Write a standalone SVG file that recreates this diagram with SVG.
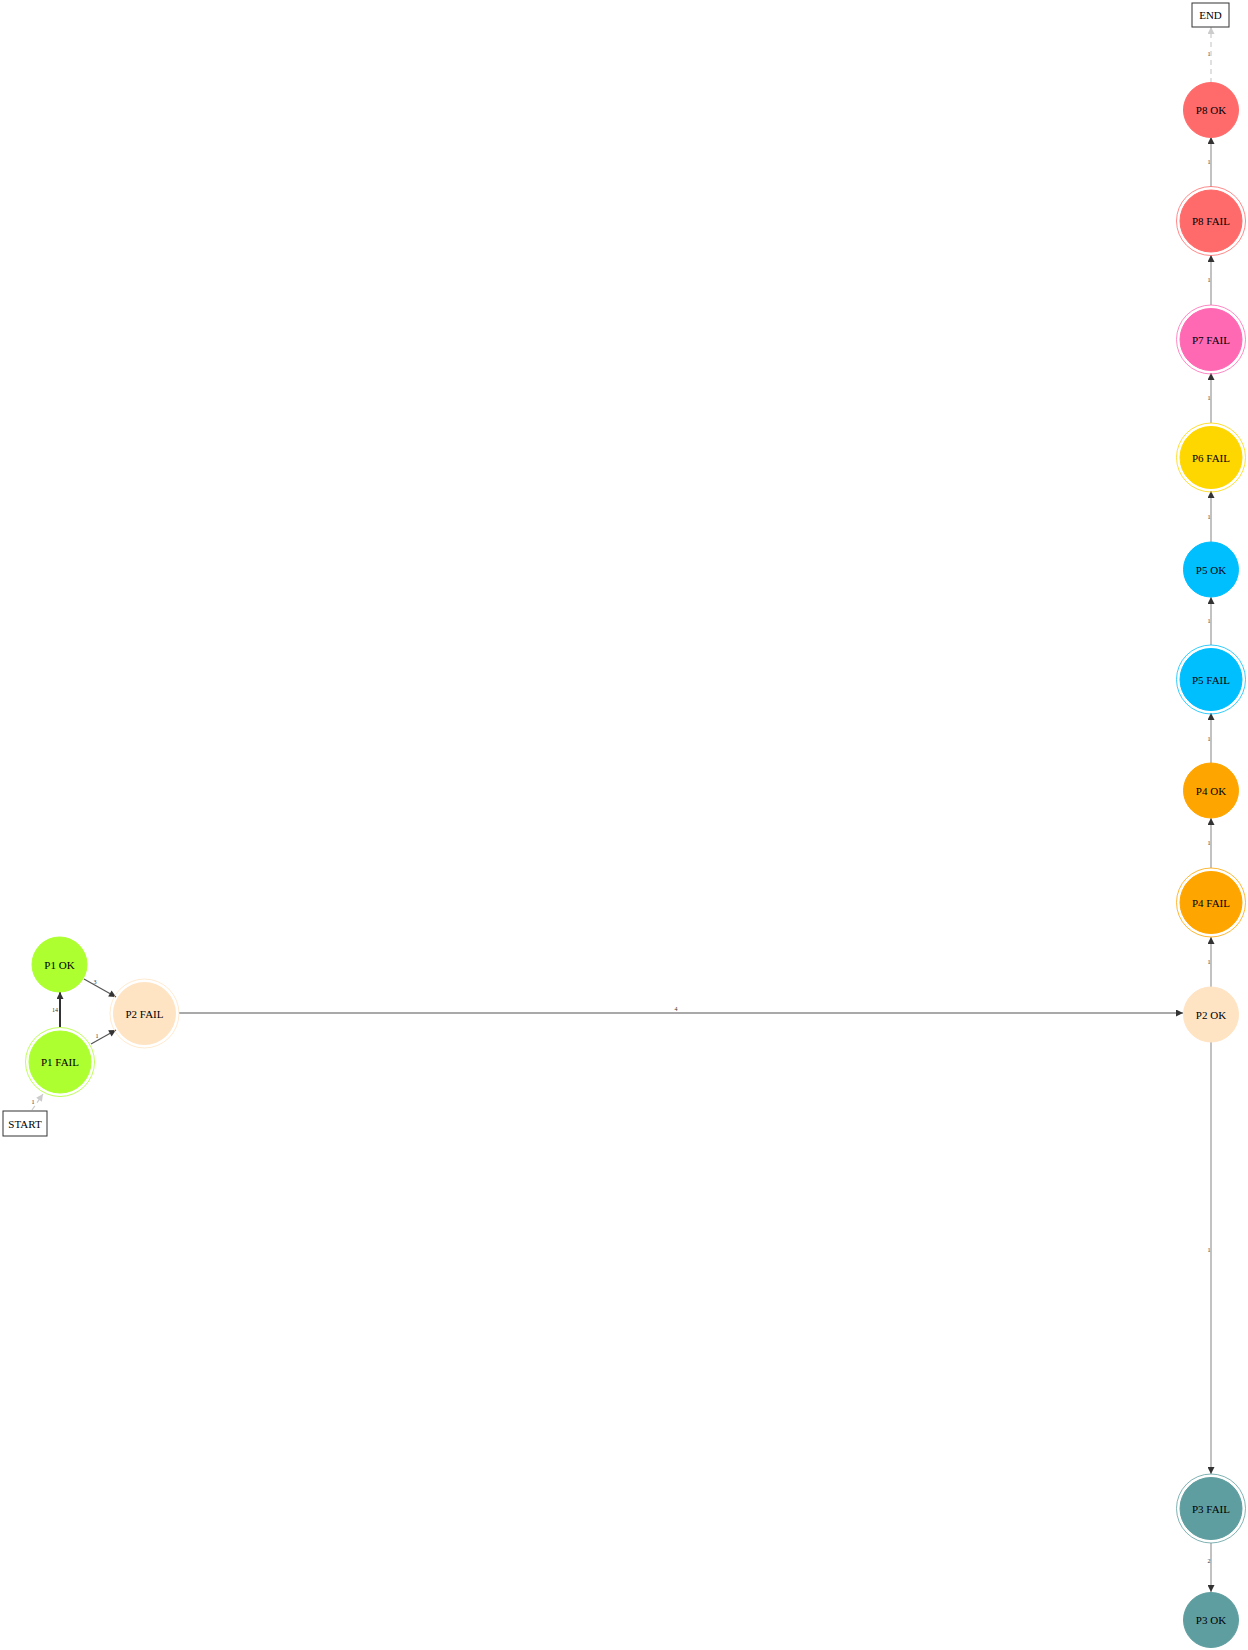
<svg xmlns="http://www.w3.org/2000/svg" width="1248" height="1650" viewBox="0 0 1248 1650">
<style>
.lbl{font-family:"Liberation Serif","Times New Roman",serif;font-size:11px;fill:#000;text-anchor:middle;dominant-baseline:central}
.el{font-family:"Liberation Serif","Times New Roman",serif;font-size:6px;fill:#333;text-anchor:middle;dominant-baseline:central}
.e{fill:none;stroke:#999;stroke-width:1.2}
.dk{stroke:#555}
.th{stroke:#333;stroke-width:2}
.ds{stroke:#ccc;stroke-dasharray:5,4}
.box{fill:#fff;stroke:#333;stroke-width:1}
.ring{fill:none;stroke-width:0.8}
</style>
<defs>
<marker id="a" viewBox="0 0 10 10" refX="10" refY="5" markerWidth="10" markerHeight="7" markerUnits="userSpaceOnUse" orient="auto"><path d="M0,0L10,5L0,10z" fill="#333"/></marker>
<marker id="al" viewBox="0 0 10 10" refX="10" refY="5" markerWidth="10" markerHeight="7" markerUnits="userSpaceOnUse" orient="auto"><path d="M0,0L10,5L0,10z" fill="#ccc"/></marker>
</defs>
<rect width="1248" height="1650" fill="#fff"/>
<g id="edges">
<line class="e ds" x1="32" y1="1110" x2="43" y2="1094" marker-end="url(#al)"/><text class="el" x="33" y="1102">1</text>
<line class="e th" x1="60" y1="1027" x2="60" y2="992" marker-end="url(#a)"/><text class="el" x="55" y="1010">14</text>
<line class="e dk" x1="84" y1="979" x2="116" y2="997" marker-end="url(#a)"/><text class="el" x="95" y="982">3</text>
<line class="e dk" x1="91" y1="1044" x2="116" y2="1030" marker-end="url(#a)"/><text class="el" x="97" y="1036">1</text>
<line class="e dk" x1="179" y1="1013" x2="1183" y2="1013" marker-end="url(#a)"/><text class="el" x="676" y="1009">4</text>
<line class="e" x1="1211" y1="987" x2="1211" y2="937" marker-end="url(#a)"/><text class="el" x="1209" y="962">1</text>
<line class="e" x1="1211" y1="868" x2="1211" y2="818" marker-end="url(#a)"/><text class="el" x="1209" y="843">1</text>
<line class="e" x1="1211" y1="763" x2="1211" y2="713" marker-end="url(#a)"/><text class="el" x="1209" y="739">1</text>
<line class="e" x1="1211" y1="645" x2="1211" y2="597" marker-end="url(#a)"/><text class="el" x="1209" y="621">1</text>
<line class="e" x1="1211" y1="542" x2="1211" y2="491" marker-end="url(#a)"/><text class="el" x="1209" y="517">1</text>
<line class="e" x1="1211" y1="423" x2="1211" y2="373" marker-end="url(#a)"/><text class="el" x="1209" y="398">1</text>
<line class="e" x1="1211" y1="305" x2="1211" y2="255" marker-end="url(#a)"/><text class="el" x="1209" y="280">1</text>
<line class="e" x1="1211" y1="187" x2="1211" y2="137" marker-end="url(#a)"/><text class="el" x="1209" y="162">1</text>
<line class="e ds" x1="1211" y1="83" x2="1211" y2="27" marker-end="url(#al)"/><text class="el" x="1209" y="54">1</text>
<line class="e" x1="1211" y1="1042" x2="1211" y2="1474" marker-end="url(#a)"/><text class="el" x="1209" y="1250">1</text>
<line class="e" x1="1211" y1="1543" x2="1211" y2="1592" marker-end="url(#a)"/><text class="el" x="1209" y="1561">2</text>
</g>
<g id="start"><rect class="box" x="3" y="1111" width="44" height="25"/><text class="lbl" x="25" y="1124">START</text></g>
<g id="end"><rect class="box" x="1192" y="3" width="37" height="24"/><text class="lbl" x="1210.5" y="15">END</text></g>
<g id="p1fail"><circle class="ring" cx="60" cy="1062" r="34.5" stroke="#ADFF2F"/><circle cx="60" cy="1062" r="31" fill="#ADFF2F" stroke="#ADFF2F"/><text class="lbl" x="60" y="1062">P1 FAIL</text></g>
<g id="p1ok"><circle cx="59.5" cy="964.5" r="27.5" fill="#ADFF2F" stroke="#ADFF2F"/><text class="lbl" x="59.5" y="964.5">P1 OK</text></g>
<g id="p2fail"><circle class="ring" cx="144.5" cy="1013.5" r="34.5" stroke="#FFE4C4"/><circle cx="144.5" cy="1013.5" r="31" fill="#FFE4C4" stroke="#FFE4C4"/><text class="lbl" x="144.5" y="1013.5">P2 FAIL</text></g>
<g id="p2ok"><circle cx="1211" cy="1014.5" r="27.5" fill="#FFE4C4" stroke="#FFE4C4"/><text class="lbl" x="1211" y="1014.5">P2 OK</text></g>
<g id="p4fail"><circle class="ring" cx="1211" cy="902.5" r="34.5" stroke="#FFA500"/><circle cx="1211" cy="902.5" r="31" fill="#FFA500" stroke="#FFA500"/><text class="lbl" x="1211" y="902.5">P4 FAIL</text></g>
<g id="p4ok"><circle cx="1211" cy="790.5" r="27.5" fill="#FFA500" stroke="#FFA500"/><text class="lbl" x="1211" y="790.5">P4 OK</text></g>
<g id="p5fail"><circle class="ring" cx="1211" cy="679.5" r="34.5" stroke="#00BFFF"/><circle cx="1211" cy="679.5" r="31" fill="#00BFFF" stroke="#00BFFF"/><text class="lbl" x="1211" y="679.5">P5 FAIL</text></g>
<g id="p5ok"><circle cx="1211" cy="569.5" r="27.5" fill="#00BFFF" stroke="#00BFFF"/><text class="lbl" x="1211" y="569.5">P5 OK</text></g>
<g id="p6fail"><circle class="ring" cx="1211" cy="457.5" r="34.5" stroke="#FFD700"/><circle cx="1211" cy="457.5" r="31" fill="#FFD700" stroke="#FFD700"/><text class="lbl" x="1211" y="457.5">P6 FAIL</text></g>
<g id="p7fail"><circle class="ring" cx="1211" cy="339.5" r="34.5" stroke="#FF69B4"/><circle cx="1211" cy="339.5" r="31" fill="#FF69B4" stroke="#FF69B4"/><text class="lbl" x="1211" y="339.5">P7 FAIL</text></g>
<g id="p8fail"><circle class="ring" cx="1211" cy="221" r="34.5" stroke="#FF6A6A"/><circle cx="1211" cy="221" r="31" fill="#FF6A6A" stroke="#FF6A6A"/><text class="lbl" x="1211" y="221">P8 FAIL</text></g>
<g id="p8ok"><circle cx="1211" cy="110" r="27.5" fill="#FF6A6A" stroke="#FF6A6A"/><text class="lbl" x="1211" y="110">P8 OK</text></g>
<g id="p3fail"><circle class="ring" cx="1211" cy="1508.5" r="34.5" stroke="#5F9EA0"/><circle cx="1211" cy="1508.5" r="31" fill="#5F9EA0" stroke="#5F9EA0"/><text class="lbl" x="1211" y="1508.5">P3 FAIL</text></g>
<g id="p3ok"><circle cx="1211" cy="1620" r="27.5" fill="#5F9EA0" stroke="#5F9EA0"/><text class="lbl" x="1211" y="1620">P3 OK</text></g>
</svg>
